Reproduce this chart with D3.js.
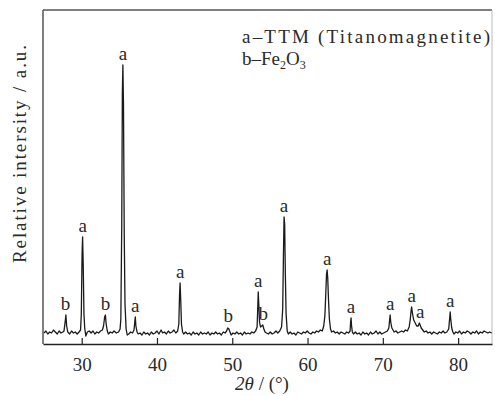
<!DOCTYPE html>
<html>
<head>
<meta charset="utf-8">
<script src="https://cdn.jsdelivr.net/npm/d3@7"></script>
<style>
  body { margin: 0; background: #fff; }
  text { font-family: "Liberation Serif", "DejaVu Serif", serif; fill: #2a2a2a; }
</style>
</head>
<body>
<div id="chart"></div>
<script>
// XRD pattern, 2θ (deg) vs intensity (arbitrary units)
const twoTheta = [
  25.0, 25.25, 25.5, 25.75, 26.0, 26.25, 26.5, 26.75, 27.0, 27.25, 27.5,
  27.65, 27.8, 27.9, 28.0, 28.15,
  28.4, 28.65, 28.9, 29.15, 29.4, 29.65, 29.85,
  29.95, 30.05, 30.12, 30.2, 30.3, 30.4, 30.55, 30.75,
  31.0, 31.25, 31.5, 31.75, 32.0, 32.25, 32.5, 32.75,
  32.9, 33.05, 33.15, 33.25, 33.4, 33.55,
  33.8, 34.05, 34.3, 34.6, 34.9, 35.1,
  35.2, 35.32, 35.4, 35.47, 35.55, 35.65, 35.75, 35.9, 36.05, 36.25, 36.5, 36.75, 36.95,
  37.05, 37.12, 37.2, 37.35, 37.5,
  37.75, 38.0, 38.25, 38.5, 38.75, 39.0, 39.25, 39.5, 39.75, 40.0, 40.25, 40.55, 40.75,
  41.0, 41.25, 41.5, 41.75, 42.0, 42.25, 42.5, 42.75,
  42.9, 43.0, 43.07, 43.15, 43.25, 43.4, 43.55,
  43.8, 44.05, 44.3, 44.55, 44.8, 45.05, 45.3, 45.55, 45.8, 46.05, 46.3, 46.55, 46.8,
  47.05, 47.3, 47.55, 47.8, 48.05, 48.3, 48.55, 48.8, 49.05, 49.25,
  49.4, 49.55, 49.7, 49.85,
  50.1, 50.35, 50.6, 50.85, 51.1, 51.35, 51.6, 51.85, 52.1, 52.35, 52.6, 52.85, 53.1, 53.3,
  53.38, 53.45, 53.52, 53.62, 53.75, 53.9, 54.05, 54.2, 54.35, 54.55, 54.8,
  55.05, 55.3, 55.55, 55.8, 56.05, 56.3, 56.55,
  56.7, 56.8, 56.88, 56.96, 57.05, 57.15, 57.3, 57.45,
  57.7, 57.95, 58.2, 58.45, 58.7, 58.95, 59.2, 59.45, 59.7, 59.95, 60.2, 60.45, 60.7,
  60.95, 61.2, 61.45, 61.7, 61.95, 62.15, 62.3,
  62.42, 62.52, 62.6, 62.68, 62.78, 62.9, 63.05, 63.2,
  63.45, 63.7, 63.95, 64.2, 64.45, 64.7, 64.95, 65.2, 65.45, 65.65,
  65.72, 65.78, 65.85, 65.95, 66.1,
  66.35, 66.6, 66.85, 67.1, 67.35, 67.6, 67.85, 68.1, 68.35, 68.6, 68.85, 69.1, 69.35,
  69.6, 69.85, 70.1, 70.35, 70.6, 70.8,
  70.9, 70.97, 71.05, 71.2, 71.35, 71.5, 71.75, 72.0, 72.25, 72.5, 72.75, 73.0, 73.25, 73.5, 73.65,
  73.75, 73.82, 73.95, 74.1, 74.3, 74.5, 74.7, 74.85, 74.95, 75.1, 75.3, 75.5, 75.75,
  76.0, 76.25, 76.5, 76.75, 77.0, 77.25, 77.5, 77.75, 78.0, 78.25, 78.5, 78.75,
  78.88, 78.95, 79.02, 79.15, 79.3, 79.45,
  79.7, 79.95, 80.2, 80.45, 80.7, 80.95, 81.2, 81.45, 81.7, 81.95, 82.2, 82.45, 82.7,
  82.95, 83.2, 83.45, 83.7, 83.95, 84.2, 84.45
];
const intensity = [
  11, 13, 10, 12, 11, 14, 12, 10, 13, 11, 12,
  13, 22, 29, 18, 12,
  10, 13, 11, 12, 10, 12, 14,
  30, 90, 107, 80, 30, 16, 8, 12,
  13, 11, 13, 10, 12, 11, 13, 14,
  18, 27, 29, 20, 13, 10,
  12, 11, 13, 11, 12, 15,
  25, 120, 250, 279, 240, 110, 40, 15, 9, 10, 12, 11, 14,
  22, 27, 18, 12, 10,
  11, 9, 12, 10, 11, 9, 12, 10, 11, 13, 10, 14, 11,
  12, 10, 13, 11, 12, 14, 11, 13,
  20, 50, 61, 45, 20, 12, 10,
  12, 10, 11, 9, 12, 10, 11, 9, 12, 10, 11, 10, 12,
  9, 11, 10, 12, 10, 11, 9, 12, 11, 13,
  16, 15, 12, 9,
  11, 10, 12, 10, 11, 9, 12, 10, 11, 10, 12, 11, 13, 17,
  35, 52, 40, 22, 17, 18, 19, 15, 12, 11, 10,
  12, 10, 11, 13, 11, 13, 17,
  35, 90, 127, 120, 70, 30, 13, 10,
  12, 10, 11, 9, 12, 11, 10, 12, 11, 13, 11, 10, 12,
  11, 13, 12, 14, 13, 18, 28,
  50, 70, 74, 66, 45, 25, 15, 12,
  13, 11, 12, 10, 12, 11, 10, 12, 11, 13,
  22, 26, 18, 12, 10,
  12, 10, 11, 9, 12, 10, 11, 9, 12, 10, 11, 13, 10,
  12, 10, 11, 12, 13, 16,
  24, 29, 22, 16, 14, 12, 13, 11, 12, 13, 12, 14, 13, 17, 25,
  33, 37, 30, 24, 21, 18, 18, 21, 19, 16, 14, 12, 13,
  11, 12, 10, 12, 11, 10, 12, 11, 13, 11, 12, 15,
  26, 32, 25, 16, 12, 10,
  12, 11, 13, 10, 12, 11, 13, 12, 10, 12, 11, 13, 10,
  12, 11, 13, 12, 11, 12, 11
];

// peak labels: position, phase letter, label height
const peakPos = [27.85, 30.12, 33.15, 35.47, 37.12, 43.07, 49.45, 53.45, 54.1, 56.88, 62.6, 65.78, 70.97, 73.82, 74.95, 78.95];
const peakTag = ['b', 'a', 'b', 'a', 'a', 'a', 'b', 'a', 'b', 'a', 'a', 'a', 'a', 'a', 'a', 'a'];
const peakTop = [29, 107, 29, 279, 27, 61, 17, 52, 19, 127, 74, 26, 29, 37, 21, 32];

const xTicks = [30, 40, 50, 60, 70, 80];
const legendLine1 = 'a–TTM (Titanomagnetite)';

const W = 495, H = 396;
const m = { left: 43, right: 492, top: 10, bottom: 344 };

const svg = d3.select('#chart').append('svg')
  .attr('width', W).attr('height', H);

const x = d3.scaleLinear().domain([24.86, 84.5]).range([m.left, m.right]);
const y = d3.scaleLinear().domain([0, 334]).range([m.bottom, m.top]);

// frame
svg.append('line').attr('x1', m.left).attr('x2', m.right).attr('y1', m.top).attr('y2', m.top)
  .attr('stroke', '#555').attr('stroke-width', 1.5);
svg.append('line').attr('x1', m.left).attr('x2', m.left).attr('y1', m.top).attr('y2', m.bottom)
  .attr('stroke', '#555').attr('stroke-width', 1.5);
svg.append('line').attr('x1', m.right).attr('x2', m.right).attr('y1', m.top).attr('y2', m.bottom)
  .attr('stroke', '#bbb').attr('stroke-width', 1);

// x axis, ticks pointing inward
const xAxis = svg.append('g')
  .attr('transform', `translate(0,${m.bottom})`)
  .attr('font-family', null)
  .call(d3.axisBottom(x).tickValues(xTicks).tickSizeInner(-6).tickSizeOuter(0).tickPadding(14));
xAxis.attr('font-family', '"Liberation Serif", serif');
xAxis.select('.domain').attr('stroke', '#222').attr('stroke-width', 1.5);
xAxis.selectAll('.tick line').attr('stroke', '#222').attr('stroke-width', 1.2);
xAxis.selectAll('.tick text')
  .attr('font-size', '19px')
  .attr('fill', '#2a2a2a');

// pattern
svg.append('clipPath').attr('id', 'plot')
  .append('rect').attr('x', m.left).attr('y', m.top)
  .attr('width', m.right - m.left).attr('height', m.bottom - m.top);

const pts = twoTheta.map((t, i) => [t, intensity[i]]);
svg.append('path')
  .datum(pts)
  .attr('clip-path', 'url(#plot)')
  .attr('fill', 'none')
  .attr('stroke', '#1a1a1a')
  .attr('stroke-width', 1.3)
  .attr('stroke-linejoin', 'round')
  .attr('d', d3.line().x(d => x(d[0])).y(d => y(d[1])));

// peak letters
svg.append('g')
  .selectAll('text')
  .data(peakPos)
  .join('text')
  .attr('x', d => x(d))
  .attr('y', (d, i) => y(peakTop[i]) - 5)
  .attr('text-anchor', 'middle')
  .attr('font-size', '19px')
  .text((d, i) => peakTag[i]);

// legend
const leg = svg.append('g');
leg.append('text').attr('x', 242).attr('y', 43).attr('font-size', '19px')
  .attr('textLength', 248).attr('lengthAdjust', 'spacing')
  .text(legendLine1);
const l2 = leg.append('text').attr('x', 242).attr('y', 65).attr('font-size', '19px');
l2.append('tspan').text('b–Fe');
l2.append('tspan').attr('font-size', '12px').attr('dy', 4).text('2');
l2.append('tspan').attr('dy', -4).text('O');
l2.append('tspan').attr('font-size', '12px').attr('dy', 4).text('3');

// axis titles
const xt = svg.append('text')
  .attr('x', 262).attr('y', 390)
  .attr('text-anchor', 'middle')
  .attr('font-size', '19px');
xt.append('tspan').attr('font-style', 'italic').text('2θ');
xt.append('tspan').text(' / (°)');

svg.append('text')
  .attr('transform', 'translate(26,154) rotate(-90)')
  .attr('text-anchor', 'middle')
  .attr('font-size', '19px')
  .attr('textLength', 218).attr('lengthAdjust', 'spacing')
  .text('Relative intersity / a.u.');
</script>
</body>
</html>
